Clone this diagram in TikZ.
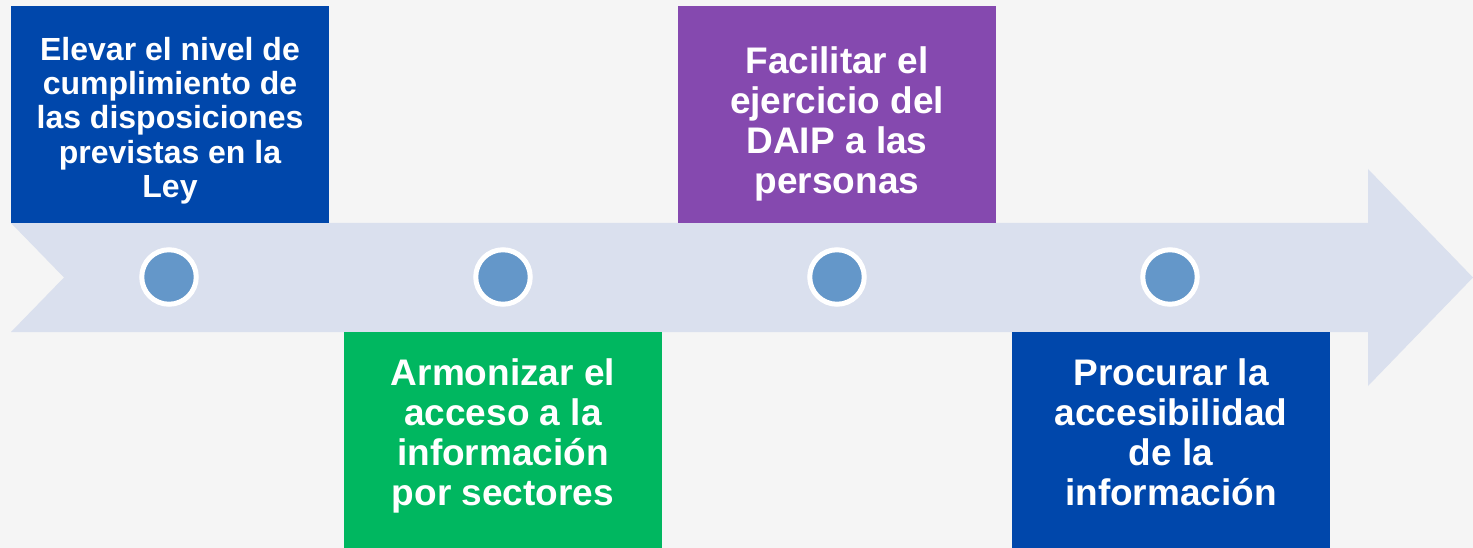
\documentclass[tikz,border=0pt]{standalone}
\usepackage{fontspec}
\setmainfont{Liberation Sans}
\usepackage{tikz}
\usepackage{xcolor}
\definecolor{bgGrey}{HTML}{F5F5F5}
\definecolor{bandBlue}{HTML}{DAE0EE}
\definecolor{dotBlue}{HTML}{6497C9}
\definecolor{boxBlue}{HTML}{0047AB}
\definecolor{boxGreen}{HTML}{00B760}
\definecolor{boxPurple}{HTML}{8549AF}

\begin{document}
\begin{tikzpicture}[x=1pt, y=-1pt]
    \tikzstyle{goalbox} = [rectangle, inner sep=0, minimum width=318pt, minimum height=217pt]
    \tikzstyle{goaltext} = [text=white, align=center, inner sep=0, font=\bfseries\fontsize{37}{40}\selectfont]
    \tikzstyle{dot} = [circle, fill=dotBlue, draw=white, line width=5pt, minimum size=54.5pt, inner sep=0]
    \fill[bgGrey] (0,0) rectangle (1473,548);
    \useasboundingbox (0,0) rectangle (1473,548);
    % timeline arrow
    \fill[bandBlue] (11,223) -- (1368,223) -- (1368,169) -- (1473,277.5)
        -- (1368,386) -- (1368,332) -- (11,332) -- (64,277.5) -- cycle;
    % goal boxes
    \node [goalbox, fill=boxBlue] (b1) at (170,114.5) {};
    \node [goalbox, fill=boxGreen] (b2) at (503,440) {};
    \node [goalbox, fill=boxPurple] (b3) at (837,114.5) {};
    \node [goalbox, fill=boxBlue] (b4) at (1171,440) {};
    % texts, anchored at the baseline of their last line
    \node [goaltext, anchor=base, font=\bfseries\fontsize{32}{34.4}\selectfont]
        (t1) at ([yshift=-192pt]b1.north) {Elevar el nivel de\\cumplimiento de\\las disposiciones\\previstas en la\\Ley};
    \node [goaltext, anchor=base] (t2) at ([yshift=-174pt]b2.north) {Armonizar el\\acceso a la\\informaci\'on\\por sectores};
    \node [goaltext, anchor=base] (t3) at ([yshift=-188pt]b3.north) {Facilitar el\\ejercicio del\\DAIP a las\\personas};
    \node [goaltext, anchor=base] (t4) at ([yshift=-174pt]b4.north) {Procurar la\\accesibilidad\\de la\\informaci\'on};
    % milestones
    \foreach \x [count=\i] in {169,503,837,1170}
        \node [dot] (d\i) at (\x,277) {};
\end{tikzpicture}
\end{document}
